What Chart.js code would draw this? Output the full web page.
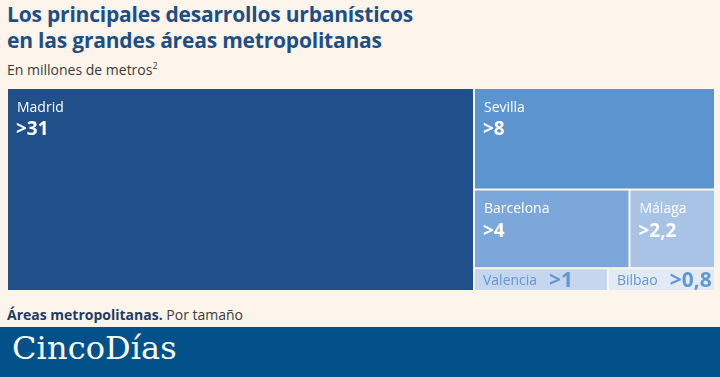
<!DOCTYPE html>
<html><head><meta charset="utf-8">
<script src="https://cdn.jsdelivr.net/npm/chart.js@4"></script>
<style>
html,body{margin:0;padding:0;}
body{width:720px;height:377px;background:#fdf5ec;position:relative;overflow:hidden;font-family:"Open Sans",sans-serif;}
#t{position:absolute;left:7px;top:1px;font-size:21px;font-weight:700;color:#1e4f84;line-height:26px;letter-spacing:-0.2px;}
#s{position:absolute;left:7px;top:60px;font-size:14px;color:#3a3a3a;}
#s sup{font-size:9px;vertical-align:6px;line-height:0}
#f{position:absolute;left:7px;top:305px;font-size:14px;color:#3a3a3a;}
#f b{color:#1c3c62}
#band{position:absolute;left:0;top:327px;width:720px;height:50px;background:#02518b;}
#logo{position:absolute;left:12px;top:2px;font-family:"DejaVu Serif",serif;font-size:32px;color:#fff;letter-spacing:0.1px;}
#wrap{position:absolute;left:7px;top:88px;width:708px;height:203px;}
</style></head><body>
<div id="t">Los principales desarrollos urbanísticos<br>en las grandes áreas metropolitanas</div>
<div id="s">En millones de metros<sup>2</sup></div>
<div id="wrap"><canvas id="c"></canvas></div>
<div id="f"><b>Áreas metropolitanas.</b> Por tamaño</div>
<div id="band"><div id="logo">CincoDías</div></div>
<script>
const cities = ['Madrid','Sevilla','Barcelona','Málaga','Valencia','Bilbao'];
const values = [31, 8, 4, 2.2, 1, 0.8];
const valueLabels = ['>31','>8','>4','>2,2','>1','>0,8'];
const columnOf = [0,1,1,1,1,1];
const rowOf = [0,0,1,1,2,2];
const colors = ['#1f5089','#5b94cf','#7ba7da','#a7c3e6','#c5d7ef','#e2eaf6'];
const textColors = ['#ffffff','#ffffff','#ffffff','#ffffff','#6496d2','#6496d2'];

const total = values.reduce((a,b)=>a+b,0);
// slice-and-dice layout in data units: x in [0,total], y in [0,1]
function layout(){
  const cells = [];
  const cols = [...new Set(columnOf)];
  let x0 = 0;
  cols.forEach(c=>{
    const idx = values.map((v,i)=>i).filter(i=>columnOf[i]===c);
    const csum = idx.reduce((a,i)=>a+values[i],0);
    const x1 = x0 + csum;
    const rows = [...new Set(idx.map(i=>rowOf[i]))];
    let y0 = 0;
    rows.forEach(r=>{
      const ridx = idx.filter(i=>rowOf[i]===r);
      const rsum = ridx.reduce((a,i)=>a+values[i],0);
      const y1 = y0 + rsum/csum;
      let cx = x0;
      ridx.forEach(i=>{
        const w = (x1-x0)*values[i]/rsum;
        cells[i] = {x0:cx,x1:cx+w,y0:y0,y1:y1};
        cx += w;
      });
      y0 = y1;
    });
    x0 = x1;
  });
  return cells;
}
const cells = layout();

const treemapPlugin = {
  id:'treemapCells',
  afterDatasetsDraw(chart){
    const {ctx, scales:{x,y}} = chart;
    ctx.save();
    cells.forEach((c,i)=>{
      const px0 = x.getPixelForValue(c.x0)+1, px1 = x.getPixelForValue(c.x1)-1;
      const py0 = y.getPixelForValue(c.y0)+1, py1 = y.getPixelForValue(c.y1)-1;
      ctx.fillStyle = colors[i];
      ctx.fillRect(px0,py0,px1-px0,py1-py0);
      ctx.fillStyle = textColors[i];
      ctx.textBaseline = 'middle';
      ctx.textAlign = 'left';
      const h = py1-py0;
      if (h > 40){
        ctx.font = '14px "Open Sans"';
        ctx.fillText(cities[i], px0+9, py0+19);
        ctx.font = 'bold 19px "Open Sans"';
        ctx.fillText(valueLabels[i], px0+8, py0+41);
      } else {
        const cy = (py0+py1)/2+1;
        ctx.font = '14px "Open Sans"';
        ctx.fillText(cities[i], px0+8, cy);
        const w = ctx.measureText(cities[i]).width;
        ctx.font = 'bold 21px "Open Sans"';
        ctx.fillText(valueLabels[i], px0+8+w+12, cy);
      }
    });
    ctx.restore();
  }
};

new Chart(document.getElementById('c'),{
  type:'scatter',
  data:{datasets:[{data:cells.map((c,i)=>({x:(c.x0+c.x1)/2,y:(c.y0+c.y1)/2})),pointRadius:0,pointHoverRadius:0}]},
  options:{
    responsive:true,maintainAspectRatio:false,animation:false,
    layout:{padding:0},
    plugins:{legend:{display:false},tooltip:{enabled:false}},
    scales:{
      x:{type:'linear',min:0,max:total,display:false},
      y:{type:'linear',min:0,max:1,reverse:true,display:false}
    }
  },
  plugins:[treemapPlugin]
});
</script>
</body></html>
